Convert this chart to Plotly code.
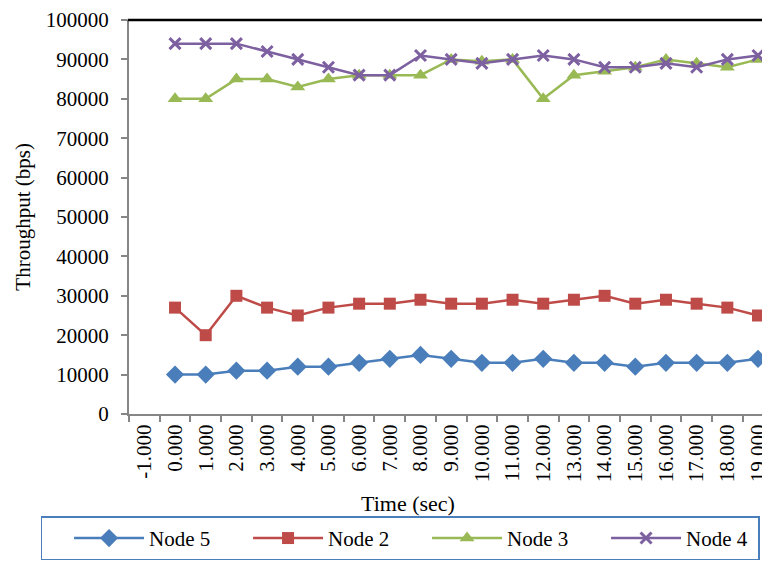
import plotly.graph_objects as go

time_labels = ["-1.000", "0.000", "1.000", "2.000", "3.000", "4.000", "5.000", "6.000",
               "7.000", "8.000", "9.000", "10.000", "11.000", "12.000", "13.000",
               "14.000", "15.000", "16.000", "17.000", "18.000", "19.000"]
data_times = time_labels[1:]

node5 = [10000, 10000, 11000, 11000, 12000, 12000, 13000, 14000, 15000, 14000,
         13000, 13000, 14000, 13000, 13000, 12000, 13000, 13000, 13000, 14000]
node2 = [27000, 20000, 30000, 27000, 25000, 27000, 28000, 28000, 29000, 28000,
         28000, 29000, 28000, 29000, 30000, 28000, 29000, 28000, 27000, 25000]
node3 = [80000, 80000, 85000, 85000, 83000, 85000, 86000, 86000, 86000, 90000,
         89500, 90000, 80000, 86000, 87000, 88000, 90000, 89000, 88000, 90000]
node4 = [94000, 94000, 94000, 92000, 90000, 88000, 86000, 86000, 91000, 90000,
         89000, 90000, 91000, 90000, 88000, 88000, 89000, 88000, 90000, 91000]

y_ticks = [0, 10000, 20000, 30000, 40000, 50000, 60000, 70000, 80000, 90000, 100000]

series = [
    ("Node 5", node5, "diamond", 14, "#4A7EBB", 0),
    ("Node 2", node2, "square", 12, "#BE4B48", 0),
    ("Node 3", node3, "triangle-up", 13, "#98B954", 0),
    ("Node 4", node4, "x-thin", 11, "#7D60A0", 3),
]

fig = go.Figure()
for name, vals, sym, size, color, lw in series:
    fig.add_trace(go.Scatter(
        x=data_times, y=vals, name=name, mode="lines+markers",
        line=dict(color=color, width=2.5),
        marker=dict(symbol=sym, size=size, color=color,
                    line=dict(color=color, width=lw)),
    ))

FONT = "Liberation Serif, Times New Roman, serif"

# page offset of 8px (body margin) is compensated in the margins
PX0, PY0, PW, PH = 129, 414, 641, 397   # plot area in page pixels (left, bottom, w, h)

fig.update_layout(
    width=762, height=554,
    margin=dict(l=121, r=0, t=9, b=148),
    paper_bgcolor="white", plot_bgcolor="white",
    font=dict(family=FONT, size=21, color="black"),
    showlegend=True,
    legend=dict(orientation="h", x=(40 - PX0) / PW, xanchor="left",
                y=(PY0 - 561.5) / PH, yanchor="bottom",
                bordercolor="#4A7EBB", borderwidth=1.5,
                itemwidth=70, indentation=27, entrywidth=67,
                entrywidthmode="pixels", font=dict(family=FONT, size=21)),
    shapes=[dict(type="line", xref="paper", yref="paper", x0=-0.002, x1=1, y0=1, y1=1,
                 line=dict(color="black", width=2.5))],
    annotations=[
        dict(text="Time (sec)", xref="paper", yref="paper", x=(410 - PX0) / PW,
             y=(PY0 - 504) / PH, xanchor="center", yanchor="middle", showarrow=False,
             font=dict(family=FONT, size=22)),
        dict(text="Throughput (bps)", xref="paper", yref="paper", x=(22 - PX0) / PW,
             y=0.5, xanchor="center", yanchor="middle", textangle=-90, showarrow=False,
             font=dict(family=FONT, size=21)),
    ],
)
fig.update_xaxes(type="category", categoryorder="array", categoryarray=time_labels,
                 tickvals=time_labels, range=[-0.5, 20.26], tickson="boundaries",
                 ticks="outside", ticklen=6, tickcolor="#868686", tickwidth=1.5,
                 showline=True, linecolor="#868686", linewidth=2, tickangle=-90,
                 ticklabeloverflow="allow",
                 showgrid=False, zeroline=False, tickfont=dict(family=FONT, size=21))
fig.update_yaxes(range=[0, 100000], tickvals=y_ticks, tickformat="d",
                 ticks="outside", ticklen=6, tickcolor="#868686", tickwidth=1.5,
                 showline=True, linecolor="#868686", linewidth=2, ticklabelstandoff=8,
                 ticklabeloverflow="allow",
                 showgrid=False, zeroline=False, tickfont=dict(family=FONT, size=21))

fig.write_html("out.html")
